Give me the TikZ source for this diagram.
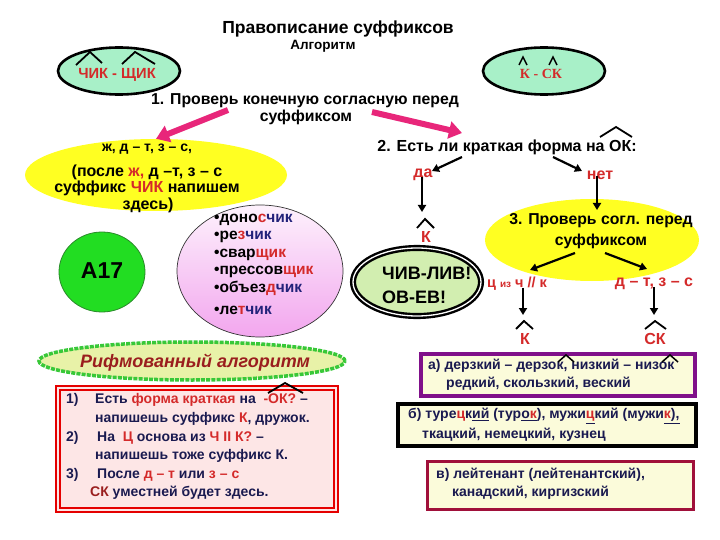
\documentclass[tikz,border=0pt]{standalone}
\usepackage{fontspec}
\setmainfont{Liberation Sans}
\newfontfamily\serifb{Liberation Serif}
\usetikzlibrary{arrows.meta,shapes.geometric}
\definecolor{rd}{HTML}{D42A2A}
\definecolor{drd}{HTML}{9A1E1E}
\definecolor{nv}{HTML}{1A1A50}
\definecolor{blu}{HTML}{22227A}
\definecolor{mint}{HTML}{A8F0C8}
\definecolor{yel}{HTML}{FFFF22}
\definecolor{pinkar}{HTML}{E8267A}
\definecolor{agreen}{HTML}{22DD22}
\definecolor{dgreen}{HTML}{2A8A2A}
\definecolor{lgreen}{HTML}{D2EEB0}
\definecolor{rgreen}{HTML}{38C838}
\definecolor{rfill}{HTML}{E8F2A8}
\definecolor{pfill}{HTML}{FDE6E6}
\definecolor{yfill}{HTML}{FBFBDA}
\definecolor{purp}{HTML}{80108A}
\definecolor{maroon}{HTML}{A0103A}
\definecolor{pinkc}{HTML}{F2A6EE}
\tikzset{
  txt/.style={font=\bfseries\fontsize{#1}{#1}\selectfont, inner sep=0pt},
  arr/.style={-{Triangle[length=7pt,width=8pt]}, line width=2.2pt, black},
  parr/.style={-{Triangle[length=13pt,width=17pt]}, line width=6pt, pinkar},
  crt/.style={line width=1.8pt, black},
  boxtxt/.style={txt=14, text=nv, anchor=west},
}
\begin{document}
\begin{tikzpicture}[x=1pt,y=-1pt]
\useasboundingbox[fill=white] (0,0) rectangle (720,540);

% title
\node[txt=17.5] (title) at (338,29) {Правописание суффиксов};
\node[txt=13.5] (alg) at (323,46) {Алгоритм};

% top ellipses
\node[ellipse, draw, line width=2.6pt, fill=mint, minimum width=122pt, minimum height=47pt] (chik) at (119,71) {};
\node[txt=14.7, text=rd] (chikt) at (117,75) {ЧИК - ЩИК};
\draw[crt] (76,65) -- (90,52) -- (102,63);
\draw[crt] (122,64) -- (135,52) -- (155,64);

\node[ellipse, draw, line width=2.6pt, fill=mint, minimum width=122pt, minimum height=47pt] (ksk) at (544,71) {};
\node[font=\serifb\bfseries\fontsize{14}{14}\selectfont, inner sep=0pt, text=rd] (kskt) at (541,74) {К - СК};
\draw[crt, line width=1.4pt] (519,65) -- (523,57) -- (527,65);
\draw[crt, line width=1.4pt] (549,65) -- (553,57) -- (557,65);

% step 1
\node[txt=15.8] (s1a) at (305,101) {1. Проверь конечную согласную перед};
\node[txt=15.8] (s1b) at (306,117) {суффиксом};

% left yellow ellipse
\node[ellipse, fill=yel, minimum width=262pt, minimum height=72pt] (yl) at (156,175) {};
\node[txt=14] (yl1) at (147,149) {ж, д – т, з – с,};
\node[txt=16] (yl2) at (147,172) {(после {\color{rd}ж,} д –т, з – с};
\node[txt=16] (yl3) at (147,188) {суффикс {\color{rd}ЧИК} напишем};
\node[txt=16] (yl4) at (148,205) {здесь)};

% pink arrows
\coordinate (pl) at (228,110);
\coordinate (pr) at (372,112);
\draw[parr] (pl) -- (yl.north);
\draw[parr] (pr) -- (462,133) coordinate (pre);

% step 2
\node[txt=16] (q2) at (507,147) {2. Есть ли краткая форма на ОК:};
\draw[crt] (600,137) -- (616,127) -- (632,137);
\node[txt=16, text=rd] (da) at (423,175) {да};
\node[txt=16, text=rd] (net) at (600,175) {нет};
\coordinate (q2l) at (462,157);
\coordinate (q2r) at (553,157);
\coordinate (dae) at (432,171);
\coordinate (nete) at (582,171);
\draw[arr] (q2l) -- (dae);
\draw[arr] (q2r) -- (nete);

\coordinate (kda) at (422,212);
\draw[arr] ([yshift=4pt]da.south -| kda) -- (kda);
\draw[crt] (417,228) -- (425,219) -- (434,228);
\node[txt=16, text=rd] (k1) at (426,237) {К};

% right yellow ellipse
\node[ellipse, fill=yel, minimum width=214pt, minimum height=82pt] (yr) at (592,240) {};
\draw[arr] ([yshift=4pt]net.south -| 597,0) -- (597,210);
\node[txt=15.8] (yr1) at (601,221) {3. Проверь согл. перед};
\node[txt=15.8] (yr2) at (601,241) {суффиксом};

\node[txt=14.5, text=rd] (cz) at (517,284) {ц {\fontsize{10}{10}\selectfont из} ч // к};
\node[txt=16, text=rd] (dt) at (654,284) {д – т, з – с};
\coordinate (c3l) at (575,253);
\coordinate (c3r) at (605,253);
\coordinate (czn) at (530,270);
\coordinate (dtn) at (647,269);
\draw[arr] (c3l) -- (czn);
\draw[arr] (c3r) -- (dtn);

\coordinate (kc) at (523,315);
\coordinate (skc) at (654,315);
\draw[arr] ([yshift=3pt]cz.south -| kc) -- (kc);
\draw[arr] ([yshift=3pt]dt.south -| skc) -- (skc);
\draw[crt] (516,329) -- (524,321) -- (533,329);
\node[txt=16, text=rd] (k2) at (525,339) {К};
\draw[crt] (645,329) -- (655,321) -- (666,329);
\node[txt=16, text=rd] (sk) at (655,339) {СК};

% chiv-liv ellipse
\node[ellipse, fill=lgreen, draw=black, line width=2.4pt, double=white, double distance=1.3pt, minimum width=128pt, minimum height=68pt] (chiv) at (417,282) {};
\node[txt=18, anchor=west] (chiv1) at (382,273) {ЧИВ-ЛИВ!};
\node[txt=18, anchor=west] (chiv2) at (382,297) {ОВ-ЕВ!};

% A17
\node[ellipse, fill=agreen, draw=dgreen, line width=0.8pt, minimum width=86pt, minimum height=80pt] (a17) at (102,272) {};
\node[txt=23] (a17t) at (102,271) {А17};

% pink circle with words
\node[ellipse, top color=white!85!pinkc, bottom color=pinkc, draw=black!80, line width=0.7pt, minimum width=166pt, minimum height=132pt] (pc) at (260,271) {};
\node[txt=15.5, anchor=west] (w1) at (214,220) {•доно{\color{rd}с}{\color{blu}чик}};
\node[txt=15.5, anchor=west] (w2) at (214,237) {•ре{\color{rd}з}{\color{blu}чик}};
\node[txt=15.5, anchor=west] (w3) at (214,255) {•свар{\color{rd}щик}};
\node[txt=15.5, anchor=west] (w4) at (214,272) {•прессов{\color{rd}щик}};
\node[txt=15.5, anchor=west] (w5) at (214,288) {•объез{\color{rd}д}{\color{blu}чик}};
\node[txt=15.5, anchor=west] (w6) at (214,310) {•ле{\color{rd}т}{\color{blu}чик}};

% rhymed algorithm
\node[ellipse, fill=rfill, draw=rgreen, line width=3.5pt, dash pattern=on 4pt off 1.2pt, minimum width=306pt, minimum height=38pt] (rh) at (192,361) {};
\node[font=\bfseries\itshape\fontsize{18}{18}\selectfont, inner sep=0pt, text=drd] (rht) at (195,363) {Рифмованный алгоритм};

\node[draw=red!90!black, line width=2pt, double=pfill, double distance=1.5pt, fill=pfill, minimum width=278pt, minimum height=122pt, inner sep=0pt] (rbox) at (197,449) {};
\draw[crt] (268,393) -- (285,383) -- (303,393);
\node[boxtxt] (n1) at (66,400) {1)};
\node[boxtxt] (r1a) at (95,400) {Есть {\color{rd}форма краткая} на \ {\color{rd}-ОК?} –};
\node[boxtxt] (r1b) at (95,419) {напишешь суффикс {\color{rd}К}, дружок.};
\node[boxtxt] (n2) at (66,438) {2)};
\node[boxtxt] (r2a) at (97,438) {На \ {\color{rd}Ц} основа из {\color{rd}Ч II К?} –};
\node[boxtxt] (r2b) at (95,456) {напишешь тоже суффикс К.};
\node[boxtxt] (n3) at (66,475) {3)};
\node[boxtxt] (r3a) at (97,475) {После {\color{rd}д – т} или {\color{rd}з – с}};
\node[boxtxt] (r3b) at (90,493) {{\color{drd}СК} уместней будет здесь.};

% example boxes
\node[draw=purp, line width=4pt, fill=yfill, minimum width=274pt, minimum height=42pt, inner sep=0pt] (ba) at (558,375) {};
\node[boxtxt] (ba1) at (428,366) {а) дерзкий – дерзок, низкий – низок};
\node[boxtxt] (ba2) at (446,384) {редкий, скользкий, веский};
\draw[crt, line width=1.5pt] (558,362) -- (566,355) -- (574,362);
\draw[crt, line width=1.5pt] (662,362) -- (670,355) -- (678,362);

\node[draw=black, line width=4pt, fill=yfill, minimum width=298pt, minimum height=42pt, inner sep=0pt] (bb) at (547,425) {};
\node[boxtxt] (bb1) at (408,416) {б) туре{\color{rd}ц}к\underline{ий} (тур\underline{о{\color{rd}к}}), мужи\underline{{\color{rd}ц}}кий (мужи\underline{{\color{rd}к}),}};
\node[boxtxt] (bb2) at (422,435) {ткацкий, немецкий, кузнец};

\node[draw=maroon, line width=3pt, fill=yfill, minimum width=266pt, minimum height=48pt, inner sep=0pt] (bc) at (560,485) {};
\node[boxtxt] (bc1) at (436,475) {в) лейтенант (лейтенантский),};
\node[boxtxt] (bc2) at (452,493) {канадский, киргизский};
\end{tikzpicture}
\end{document}
